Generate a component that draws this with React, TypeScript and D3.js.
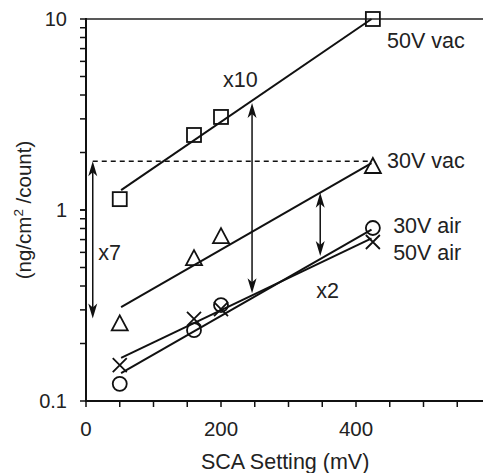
import React from 'react';
import * as d3 from 'd3';

// SCA setting (mV) for every measured point
const xVals = [50, 160, 200, 425];
const vac50 = [1.14, 2.47, 3.07, 10];
const vac30 = [0.255, 0.56, 0.73, 1.7];
const air30 = [0.123, 0.235, 0.318, 0.805];
const air50 = [0.154, 0.269, 0.303, 0.68];

// straight fits drawn through each series
const fitX = [52, 423];
const vac50Fit = [1.27, 10];
const vac30Fit = [0.31, 1.76];
const air30Fit = [0.14, 0.79];
const air50Fit = [0.168, 0.71];

// ratio annotations
const arrowNames = ['x7', 'x10', 'x2'];
const arrowX = [10, 246, 347];
const arrowTop = [1.8, 3.63, 1.23];
const arrowBottom = [0.27, 0.367, 0.574];
const arrowLabelX = [18, 203, 341];
const arrowLabelY = [0.548, 4.41, 0.346];
const dashX = [10, 423];
const dashLevel = 1.8;

const seriesNames = ['50V vac', '30V vac', '30V air', '50V air'];
const seriesLabelX = [446, 446, 455, 455];
const seriesLabelY = [7.06, 1.66, 0.758, 0.548];

const yTickLabels = ['0.1', '1', '10'];
const xTickLabels = ['0', '200', '400'];

const W = 483, H = 473;
const FONT = '"Liberation Sans", Arial, sans-serif';
const LABEL_SIZE = 21.5;

export default function App() {
  const x = d3.scaleLinear().domain([0, 590]).range([86, 484.25]);
  const y = d3.scaleLog().domain([0.1, 10]).range([401, 19]);

  const yMinor: number[] = [];
  [0.1, 1].forEach(d => { for (let k = 1; k <= 10; k++) yMinor.push(d * k); });
  const xTicks = d3.range(0, 560, 50);

  const line = d3.line<[number, number]>().x(d => x(d[0])).y(d => y(d[1]));
  const fits = [vac50Fit, vac30Fit, air30Fit, air50Fit];

  const head = (px: number, py: number, dir: number) => {
    // dir -1 = pointing up, 1 = pointing down
    const l = 15, w = 4.5;
    return `M${px},${py} L${px - w},${py - dir * l} L${px},${py - dir * (l - 4)} L${px + w},${py - dir * l} Z`;
  };

  const sq = 14, r = 7;
  const tri = (cx: number, cy: number) =>
    `M${cx},${cy - 8} L${cx + 8},${cy + 7} L${cx - 8},${cy + 7} Z`;

  return (
    <svg width={W} height={H} style={{ position: 'absolute', left: 0, top: 0, background: '#fff' }}
      fontFamily={FONT}>
      {/* top frame line */}
      <line x1={86} x2={W} y1={19} y2={19} stroke="#222" strokeWidth={1.3} />

      {/* y axis */}
      <line x1={86} x2={86} y1={18} y2={402} stroke="#111" strokeWidth={2} />
      {yMinor.map((d, i) => (
        <line key={'ym' + i} x1={80} x2={86} y1={y(d)} y2={y(d)} stroke="#111" strokeWidth={1.5} />
      ))}
      {[0.1, 1, 10].map((d, i) => (
        <text key={'yl' + i} x={67} y={y(d)} dy="0.36em" textAnchor="end" fontSize={20} fill="#222">
          {yTickLabels[i]}
        </text>
      ))}

      {/* x axis */}
      <line x1={85} x2={W} y1={401} y2={401} stroke="#111" strokeWidth={2} />
      {xTicks.map(d => (
        <line key={'xt' + d} x1={x(d)} x2={x(d)} y1={401} y2={407} stroke="#111" strokeWidth={1.5} />
      ))}
      {[0, 200, 400].map((d, i) => (
        <text key={'xl' + d} x={x(d)} y={436} textAnchor="middle" fontSize={20.5} fill="#222">
          {xTickLabels[i]}
        </text>
      ))}
      <text x={x(295)} y={469} textAnchor="middle" fontSize={LABEL_SIZE} fill="#222">SCA Setting (mV)</text>
      <text transform={`translate(31,${y(1)}) rotate(-90)`} textAnchor="middle" fontSize={20.5} fill="#222">
        (ng/cm<tspan fontSize={13.5} dy={-8}>2</tspan><tspan dy={8}> /count)</tspan>
      </text>

      {/* fit lines */}
      {fits.map((f, i) => (
        <path key={'fit' + i} d={line([[fitX[0], f[0]], [fitX[1], f[1]]]) || ''}
          fill="none" stroke="#111" strokeWidth={2} />
      ))}

      {/* dashed reference level */}
      <line x1={x(dashX[0])} x2={x(dashX[1])} y1={y(dashLevel)} y2={y(dashLevel)}
        stroke="#111" strokeWidth={1.5} strokeDasharray="5,4" />

      {/* ratio arrows */}
      {arrowX.map((a, i) => (
        <g key={'ar' + i}>
          <line x1={x(a)} x2={x(a)} y1={y(arrowTop[i]) + 6} y2={y(arrowBottom[i]) - 6}
            stroke="#111" strokeWidth={1.5} />
          <path d={head(x(a), y(arrowTop[i]), -1)} fill="#111" />
          <path d={head(x(a), y(arrowBottom[i]), 1)} fill="#111" />
          <text x={x(arrowLabelX[i])} y={y(arrowLabelY[i])} fontSize={LABEL_SIZE} fill="#222">
            {arrowNames[i]}
          </text>
        </g>
      ))}

      {/* markers */}
      {xVals.map((d, i) => (
        <g key={'mk' + i} fill="none" stroke="#111" strokeWidth={1.8}>
          <rect x={x(d) - sq / 2} y={y(vac50[i]) - sq / 2} width={sq} height={sq} fill="none" />
          <path d={tri(x(d), y(vac30[i]))} />
          <circle cx={x(d)} cy={y(air30[i])} r={r} />
          <path d={`M${x(d) - 7},${y(air50[i]) - 7} L${x(d) + 7},${y(air50[i]) + 7} M${x(d) + 7},${y(air50[i]) - 7} L${x(d) - 7},${y(air50[i]) + 7}`} />
        </g>
      ))}

      {/* series labels */}
      {seriesNames.map((s, i) => (
        <text key={s} x={x(seriesLabelX[i])} y={y(seriesLabelY[i])} fontSize={LABEL_SIZE} fill="#222">{s}</text>
      ))}
    </svg>
  );
}
